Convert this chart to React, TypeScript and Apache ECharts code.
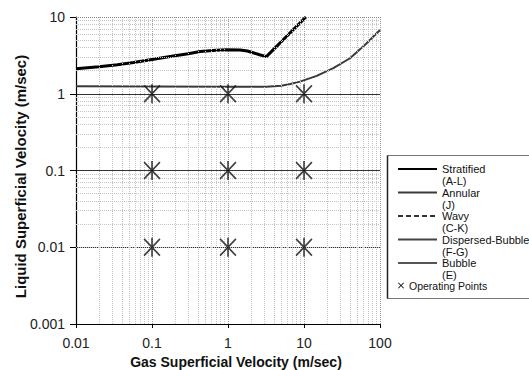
import React, { useEffect, useRef } from "react";
import * as echarts from "echarts";

const xTickLabels = ["0.01", "0.1", "1", "10", "100"];
const yTickLabels = ["0.001", "0.01", "0.1", "1", "10"];

const minorX = [
  0.02, 0.03, 0.04, 0.05, 0.06, 0.07, 0.08, 0.09,
  0.2, 0.3, 0.4, 0.5, 0.6, 0.7, 0.8, 0.9,
  2, 3, 4, 5, 6, 7, 8, 9,
  20, 30, 40, 50, 60, 70, 80, 90,
];
const minorY = [
  0.002, 0.003, 0.004, 0.005, 0.006, 0.007, 0.008, 0.009,
  0.02, 0.03, 0.04, 0.05, 0.06, 0.07, 0.08, 0.09,
  0.2, 0.3, 0.4, 0.5, 0.6, 0.7, 0.8, 0.9,
  2, 3, 4, 5, 6, 7, 8, 9,
];
const topBorderY = [10];

const stratified: [number, number][] = [
  [0.01, 2.11], [0.02, 2.25], [0.035, 2.38], [0.057, 2.55], [0.1, 2.8],
  [0.19, 3.1], [0.3, 3.33], [0.43, 3.55], [0.7, 3.7], [0.96, 3.74],
  [1.44, 3.72], [1.8, 3.6], [2.14, 3.42], [2.6, 3.22], [3.2, 3.05], [10.6, 10],
];
const annular: [number, number][] = [
  [0.01, 1.25], [0.1, 1.24], [1, 1.23], [3.2, 1.23], [5, 1.27], [6.6, 1.34],
  [8.85, 1.44], [14.7, 1.71], [24.3, 2.16], [40.3, 2.9], [66.8, 4.55], [100, 6.78],
];
const wavy: [number, number][] = [];
const dispersedBubble: [number, number][] = [];
const bubble: [number, number][] = [];
const operatingPoints: [number, number][] = [
  [0.1, 1], [1, 1], [10, 1],
  [0.1, 0.1], [1, 0.1], [10, 0.1],
  [0.1, 0.01], [1, 0.01], [10, 0.01],
];

const lineNames = ["Stratified", "Annular", "Wavy", "Dispersed-Bubble", "Bubble"];
const lineCodes = ["(A-L)", "(J)", "(C-K)", "(F-G)", "(E)"];

const FONT = "Liberation Sans, Arial, Helvetica, sans-serif";

const ASTERISK =
  "path://M7.2,0 L8.8,0 L8.8,18 L7.2,18 Z " +
  "M0.57,0.43 L16.57,16.43 L15.43,17.57 L-0.57,1.57 Z " +
  "M15.43,0.43 L16.57,1.57 L0.57,17.57 L-0.57,16.43 Z";
const SMALL_X = "path://M0,1 L1,0 L5,4 L9,0 L10,1 L6,5 L10,9 L9,10 L5,6 L1,10 L0,9 L4,5 Z";

export default function App() {
  const ref = useRef<HTMLDivElement>(null);
  useEffect(() => {
    if (!ref.current) return;
    const chart = echarts.init(ref.current, null, { renderer: "svg" });
    const tickLabel = (labels: string[], offset: number) => (v: number) => {
      const i = Math.round(Math.log10(v)) + offset;
      return labels[i] ?? String(v);
    };
    chart.setOption({
      animation: false,
      backgroundColor: "#fff",
      textStyle: { fontFamily: FONT },
      grid: { left: 76, top: 17, width: 304, height: 307, outerBoundsMode: "none", containLabel: false },
      xAxis: {
        type: "log",
        logBase: 10,
        min: 0.01,
        max: 100,
        name: "Gas Superficial Velocity (m/sec)",
        nameLocation: "middle",
        nameGap: 31,
        nameMoveOverlap: false,
        nameTextStyle: { fontFamily: FONT, fontSize: 14, fontWeight: "bold", color: "#111", padding: [0, 0, 0, 16] },
        axisLine: { show: true, lineStyle: { color: "#000", width: 1.2 } },
        axisTick: { show: true, inside: false, length: 4, lineStyle: { color: "#000" } },
        axisLabel: { margin: 12, fontFamily: FONT, fontSize: 14, color: "#222", formatter: tickLabel(xTickLabels, 2) },
        splitLine: { show: true, lineStyle: { color: "#999", type: "dotted", width: 1 } },
      },
      yAxis: {
        type: "log",
        logBase: 10,
        min: 0.001,
        max: 10,
        name: "Liquid Superficial Velocity (m/sec)",
        nameLocation: "middle",
        nameGap: 48,
        nameMoveOverlap: false,
        nameTextStyle: { fontFamily: FONT, fontSize: 15, fontWeight: "bold", color: "#111", padding: [0, 12, 0, 0] },
        axisLine: { show: true, lineStyle: { color: "#000", width: 1.2 } },
        axisTick: { show: true, inside: false, length: 6, lineStyle: { color: "#000" } },
        axisLabel: { margin: 11, fontFamily: FONT, fontSize: 14, color: "#222", formatter: tickLabel(yTickLabels, 3) },
        splitLine: { show: true, showMinLine: false, showMaxLine: false, lineStyle: { color: "#333", width: 1.2 } },
      },
      legend: [
        {
          data: lineNames,
          orient: "vertical",
          left: 397,
          top: 151,
          padding: 0,
          itemWidth: 39,
          itemHeight: 10,
          itemGap: -12.5,
          selectedMode: false,
          itemStyle: { opacity: 0 },
          formatter: (name: string) => "\n" + name + "\n" + lineCodes[lineNames.indexOf(name)],
          textStyle: { fontFamily: FONT, fontSize: 11, lineHeight: 12, color: "#111" },
        },
        {
          data: [
            {
              name: "Operating Points",
              icon: SMALL_X,
              itemStyle: { color: "#000", borderWidth: 0, opacity: 1 },
            },
          ],
          orient: "vertical",
          left: 398,
          top: 280,
          padding: 0,
          itemWidth: 6,
          itemHeight: 6,
          selectedMode: false,
          textStyle: { fontFamily: FONT, fontSize: 10.5, color: "#111" },
        },
      ],
      graphic: [
        {
          type: "rect",
          z: -1,
          shape: { x: 387.5, y: 155.5, width: 160, height: 143 },
          style: { fill: "#fff", stroke: "#777", lineWidth: 1 },
        },
        {
          type: "line",
          z: -1,
          shape: { x1: 387.5, y1: 155.5, x2: 387.5, y2: 298.5 },
          style: { stroke: "#222", lineWidth: 1.5 },
        },
      ],
      series: [
        {
          name: "grid",
          type: "line",
          data: [],
          z: 1,
          silent: true,
          markLine: {
            silent: true,
            symbol: ["none", "none"],
            label: { show: false },
            lineStyle: { color: "#c4c4c4", type: "dotted", width: 1 },
            data: [
              ...minorX.map((v) => ({ xAxis: v })),
              ...minorY.map((v) => ({ yAxis: v })),
              ...topBorderY.map((v) => ({ yAxis: v, lineStyle: { color: "#888" } })),
            ],
          },
        },
        {
          name: "Stratified",
          type: "line",
          data: stratified,
          showSymbol: false,
          symbol: "none",
          z: 4,
          lineStyle: { color: "#000", width: 3 },
          itemStyle: { color: "#000" },
        },
        {
          name: "Annular",
          type: "line",
          data: annular,
          showSymbol: false,
          symbol: "none",
          z: 3,
          lineStyle: { color: "#3a3a3a", width: 2 },
          itemStyle: { color: "#3a3a3a" },
        },
        {
          name: "Wavy",
          type: "line",
          data: wavy,
          symbol: "none",
          lineStyle: { color: "#333", width: 1.5, type: [5, 3] },
          itemStyle: { color: "#333" },
        },
        {
          name: "Dispersed-Bubble",
          type: "line",
          data: dispersedBubble,
          symbol: "none",
          lineStyle: { color: "#444", width: 1.5 },
          itemStyle: { color: "#444" },
        },
        {
          name: "Bubble",
          type: "line",
          data: bubble,
          symbol: "none",
          lineStyle: { color: "#555", width: 2 },
          itemStyle: { color: "#555" },
        },
        {
          name: "Operating Points",
          type: "scatter",
          data: operatingPoints,
          z: 5,
          symbol: ASTERISK,
          symbolSize: [17, 19],
          itemStyle: { color: "#111" },
        },
      ],
    });
    return () => chart.dispose();
  }, []);
  return (
    <div
      ref={ref}
      style={{ position: "absolute", left: 0, top: 0, width: 529, height: 370 }}
    />
  );
}
